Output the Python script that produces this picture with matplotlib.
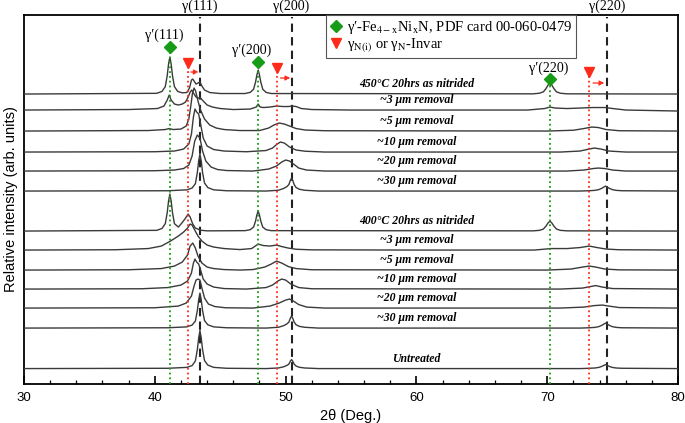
import matplotlib
matplotlib.use('Agg')
import matplotlib.pyplot as plt
from matplotlib.lines import Line2D
from matplotlib.ticker import MultipleLocator

plt.rcParams['mathtext.fontset'] = 'stix'
serif = ['Liberation Serif', 'DejaVu Serif']
sans = ['Liberation Sans', 'DejaVu Sans']

# sample labels, vertical offsets of each pattern (arb. units)
labels = ['450°C 20hrs as nitrided', '~3 μm removal', '~5 μm removal', '~10 μm removal',
          '~20 μm removal', '~30 μm removal',
          '400°C 20hrs as nitrided', '~3 μm removal', '~5 μm removal', '~10 μm removal',
          '~20 μm removal', '~30 μm removal', 'Untreated']
offsets = [290, 274, 253, 232, 213, 193, 153, 134, 114, 95, 76, 56, 15.5]

# patterns: 2theta points and intensity above baseline
x450_0 = [30, 40.15, 40.55, 40.8, 40.95, 41.05, 41.15, 41.25, 41.35, 41.5, 41.75, 42.1, 42.45, 42.65,
          42.8, 42.9, 43.0, 43.15, 43.3, 43.45, 43.6, 43.8, 44.2, 45, 46.9, 47.3, 47.55, 47.7, 47.8,
          47.9, 48.0, 48.1, 48.25, 48.5, 48.9, 68.9, 69.4, 69.7, 69.9, 70.05, 70.2, 70.35, 70.5,
          70.7, 71.0, 71.5, 80]
y450_0 = [0, 0.7, 2.6, 7.4, 18.5, 30, 37, 30, 18.5, 7.4, 2.6, 1.2, 1.5, 6, 14, 15, 13, 10, 11, 12, 8,
          4, 1.5, 0.5, 0.5, 1.7, 4.8, 12, 19, 24, 19, 12, 4.8, 1.7, 0.5, 0.2, 0.8, 2.2, 5.5, 8.8, 11,
          8.8, 5.5, 2.2, 0.8, 0.2, 0]

x450_3 = [30, 38, 40.2, 40.7, 40.95, 41.1, 41.25, 41.5, 41.8, 42.1, 42.35, 42.55, 42.7, 42.82, 42.95,
          43.15, 43.35, 43.5, 43.7, 44.0, 44.4, 45.0, 46, 47.3, 47.75, 47.9, 48.05, 48.3, 48.8, 49.3,
          49.8, 50.2, 50.5, 50.8, 51.2, 52, 55, 68.5, 69.8, 70.2, 70.6, 71.5, 72.5, 73.5, 74.4, 75.0, 76, 80]
y450_3 = [0, 0.5, 1.5, 4, 10, 15, 10, 6, 5, 6, 8, 13, 18, 20, 17, 13, 12, 12, 9, 5, 3, 1.5, 0.5, 1, 3,
          6, 3, 2.5, 3, 4, 3.5, 3.5, 4, 3.5, 1.5, 0.5, 0, 0, 1.5, 3, 2, 1.5, 2, 2.5, 2.5, 1.5, 0, -1]

x450_5 = [30, 39.5, 40.8, 41.1, 41.4, 42.0, 42.4, 42.6, 42.75, 42.88, 43.0, 43.12, 43.3, 43.5, 43.8,
          44.2, 44.7, 45.3, 46.5, 48.0, 48.7, 49.1, 49.5, 49.9, 50.3, 50.8, 51.5, 53, 70, 72.0, 72.8,
          73.4, 73.9, 74.5, 75.5, 80]
y450_5 = [0, 0.5, 1.5, 2.5, 1.5, 2, 5, 12, 25, 38, 43, 40, 30, 21, 12, 6, 3, 1.5, 0.5, 0.5, 3, 6, 8, 7,
          5, 2.5, 1, 0.3, 0, 0.8, 2.5, 4, 3.5, 1.5, 0.3, 0]

x450_10 = [30, 40, 41.5, 42.2, 42.6, 42.8, 42.95, 43.07, 43.2, 43.35, 43.5, 43.7, 44.0, 44.5, 45.3, 47,
           48.5, 49.0, 49.35, 49.6, 49.9, 50.3, 50.8, 51.5, 53, 71, 72.5, 73.2, 73.6, 74.1, 74.7, 76, 80]
y450_10 = [0, 0.3, 1, 3, 8, 18, 35, 43, 40, 38, 28, 14, 6, 2.5, 1, 0.3, 1.5, 4, 8, 10, 9, 5, 2, 0.8,
           0, 0, 1, 3, 4, 3, 1, 0, 0]

x450_20 = [30, 40, 41.5, 42.2, 42.6, 42.85, 43.05, 43.25, 43.45, 43.65, 43.9, 44.3, 44.8, 45.5, 47.5,
           48.7, 49.3, 49.7, 50.0, 50.3, 50.6, 51.0, 51.6, 53, 71.5, 72.8, 73.5, 73.9, 74.4, 75.0, 76, 80]
y450_20 = [0, 0.3, 1, 2.5, 6, 15, 30, 36, 33, 20, 10, 4, 1.5, 0.5, 0, 2, 5, 9, 11, 10, 7, 3, 1, 0, 0,
           1, 2.5, 3, 2.5, 1, 0, 0]

x450_30 = [30, 41, 42.45, 42.85, 43.1, 43.25, 43.35, 43.45, 43.55, 43.65, 43.8, 44.05, 44.5, 45.5,
           48.5, 49.45, 49.85, 50.1, 50.25, 50.35, 50.45, 50.55, 50.65, 50.8, 51.05, 51.45, 52.5,
           72.5, 73.2, 73.65, 73.95, 74.2, 74.45, 74.7, 74.95, 75.25, 75.7, 80]
y450_30 = [0, 0.3, 1.2, 3, 7.4, 18.5, 30, 37, 30, 18.5, 8, 3.5, 1.2, 0.3, 0, 0.8, 2.6, 4.5, 6.5, 10.4,
           13, 10.4, 6.5, 3.5, 1.8, 0.8, 0, 0, 0.3, 0.7, 1.5, 3, 5, 3, 1.5, 0.7, 0.3, 0]

x400_0 = [30, 40.15, 40.55, 40.8, 40.95, 41.05, 41.15, 41.25, 41.35, 41.5, 41.8, 42.0, 42.3, 42.55,
          42.7, 42.9, 43.1, 43.5, 44, 46.9, 47.3, 47.55, 47.7, 47.8, 47.9, 48.0, 48.1, 48.25, 48.5,
          48.9, 68.9, 69.4, 69.7, 69.9, 70.05, 70.2, 70.35, 70.5, 70.7, 71.0, 71.5, 80]
y400_0 = [0, 0.7, 2.6, 7.4, 18.5, 30, 37, 30, 18.5, 7.4, 4, 7, 12, 17, 14, 7, 3, 0.8, 0.2, 0.4, 1.4,
          4, 10, 16, 20, 16, 10, 4, 1.4, 0.4, 0.2, 0.7, 2, 5, 8, 10, 8, 5, 2, 0.7, 0.2, 0]

x400_3 = [30, 37, 39.5, 40.5, 41.2, 41.8, 42.2, 42.5, 42.7, 42.85, 43.05, 43.3, 43.6, 44.0, 44.5, 45.3,
          46.5, 47.4, 47.9, 48.3, 48.8, 49.3, 49.7, 50.2, 50.8, 52, 60, 69, 70.3, 71.5, 72.5, 73.2,
          73.8, 74.5, 75.5, 80]
y400_3 = [0, 0.3, 1.5, 4, 9, 14, 18, 22, 26, 25, 20, 14, 9, 5, 3, 1.5, 0.5, 1.5, 6, 4.5, 4, 5, 3.5, 2,
          0.8, 0.2, 0, 0, 1.5, 1.5, 2.5, 4, 2.5, 1, 0.3, 0]

x400_5 = [30, 38, 40.5, 41.5, 42.1, 42.5, 42.7, 42.9, 43.1, 43.3, 43.6, 44.0, 44.5, 45.3, 46.5, 47.5,
          48.4, 48.9, 49.3, 49.7, 50.2, 50.8, 52, 70, 71.8, 72.7, 73.2, 73.7, 74.4, 75.5, 80]
y400_5 = [0, 0.3, 1.5, 4, 8, 15, 24, 27, 22, 14, 7, 3, 1.5, 0.5, 0, 0.5, 3, 6, 9, 7, 3.5, 1.5, 0.3, 0,
          1, 3, 4, 3, 1, 0.2, 0]

x400_10 = [30, 39, 41, 42, 42.5, 42.8, 42.95, 43.07, 43.2, 43.35, 43.5, 43.7, 44.0, 44.5, 45.3, 47,
           48.5, 49.0, 49.4, 49.7, 50.0, 50.4, 51.0, 52, 71, 72.7, 73.3, 73.7, 74.2, 75, 80]
y400_10 = [0, 0.3, 1.5, 4, 8, 16, 26, 30, 27, 25, 19, 10, 5, 2, 0.5, 0, 1.5, 4, 8, 10, 9, 5, 1.5, 0.3,
           0, 1, 2.5, 3.5, 2, 0.5, 0]

x400_20 = [30, 40, 41.8, 42.4, 42.8, 43.0, 43.15, 43.3, 43.45, 43.6, 43.8, 44.1, 44.6, 45.4, 47.5, 48.8,
           49.5, 50.0, 50.3, 50.6, 51.0, 51.6, 53, 71, 72.8, 73.6, 74.2, 74.7, 75.5, 80]
y400_20 = [0, 0.3, 2, 5, 12, 22, 28, 29, 28, 20, 10, 4, 1.5, 0.3, 0, 2, 5, 8, 9, 7, 3.5, 1, 0, 0, 1,
           2.5, 3, 2, 0.5, 0]

x400_30 = [30, 41, 42.45, 42.85, 43.1, 43.25, 43.35, 43.45, 43.55, 43.65, 43.8, 44.05, 44.5, 45.5,
           48.5, 49.45, 49.85, 50.1, 50.25, 50.35, 50.45, 50.55, 50.65, 50.8, 51.05, 51.45, 52.5,
           72.5, 73.2, 73.65, 73.95, 74.2, 74.45, 74.7, 74.95, 75.25, 75.7, 80]
y400_30 = [0, 0.3, 1.2, 3, 7, 17.5, 28, 35, 28, 17.5, 7.5, 3.3, 1.2, 0.3, 0, 0.8, 2.4, 4.2, 6, 9.6,
           12, 9.6, 6, 3.3, 1.7, 0.8, 0, 0, 0.3, 0.7, 1.5, 3, 5, 3, 1.5, 0.7, 0.3, 0]

x_untr = [30, 41, 42.45, 42.85, 43.1, 43.25, 43.35, 43.45, 43.55, 43.65, 43.8, 44.05, 44.5, 45.5,
          48.5, 49.45, 49.85, 50.1, 50.25, 50.35, 50.45, 50.55, 50.65, 50.8, 51.05, 51.45, 52.5,
          72.5, 73.2, 73.65, 73.95, 74.2, 74.45, 74.7, 74.95, 75.25, 75.7, 80]
y_untr = [0, 0.3, 1.2, 3, 7.6, 19, 30.4, 38, 30.4, 19, 8, 3.5, 1.2, 0.3, 0, 0.6, 1.8, 3.2, 4.5, 7.2,
          9, 7.2, 4.5, 2.5, 1.3, 0.6, 0, 0, 0.3, 0.6, 1.2, 2.4, 4, 2.4, 1.2, 0.6, 0.3, 0]

patterns = [(x450_0, y450_0), (x450_3, y450_3), (x450_5, y450_5), (x450_10, y450_10),
            (x450_20, y450_20), (x450_30, y450_30), (x400_0, y400_0), (x400_3, y400_3),
            (x400_5, y400_5), (x400_10, y400_10), (x400_20, y400_20), (x400_30, y400_30),
            (x_untr, y_untr)]

# reference positions
gamma_pos = [43.45, 50.45, 74.55]
gamma_names = ['γ(111)', 'γ(200)', 'γ(220)']
gprime_pos = [41.15, 47.9, 70.2]
gprime_top = [337, 322, 305]
gprime_names = ['γ′(111)', 'γ′(200)', 'γ′(220)']
gprime_text = [(40.7, 349), (47.4, 334), (70.1, 316)]
gn_pos = [42.5, 49.35, 73.2]
gn_top = [321, 316, 312]
arrows = [(42.75, 43.35, 312), (49.6, 50.35, 306), (73.5, 74.35, 301)]

green = '#169c16'
red = '#ff2b1a'

fig = plt.figure(figsize=(6.85, 4.23), dpi=100)
ax = fig.add_axes([0.035, 0.092, 0.955, 0.8725])

for (xs, hs), off in zip(patterns, offsets):
    ax.plot(xs, [off + h for h in hs], color='#3a3a3a', lw=1.0, zorder=3)

for lab, off in zip(labels, offsets):
    ax.text(60.0, off + 10, lab, ha='center', va='center', fontsize=8.5,
            family=serif, weight='bold', style='italic')

for xp, name in zip(gamma_pos, gamma_names):
    ax.axvline(xp, ymax=0.995, color='#222222', lw=1.5, ls=(0, (4, 2.5)), zorder=2)
    ax.text(xp, 378, name, ha='center', va='center', fontsize=10, family=serif, clip_on=False)

for xp, top, name, (tx, ty) in zip(gprime_pos, gprime_top, gprime_names, gprime_text):
    ax.plot([xp, xp], [0, top], color=green, lw=1.3, ls=':', zorder=4)
    ax.plot(xp, top, marker='D', color=green, ms=6, zorder=5)
    ax.text(tx, ty, name, ha='center', va='center', fontsize=10, family=serif)

for xp, top in zip(gn_pos, gn_top):
    ax.plot([xp, xp], [0, top], color=red, lw=1.3, ls=':', zorder=4)
    ax.plot(xp, top, marker='v', color=red, ms=7, zorder=5)

for x0, x1, ya in arrows:
    ax.annotate('', xy=(x1, ya), xytext=(x0, ya),
                arrowprops=dict(arrowstyle='-|>', color=red, lw=0.9, ls='--',
                                mutation_scale=7, shrinkA=0, shrinkB=0))

handles = [Line2D([], [], marker='D', color=green, ls='none', ms=6),
           Line2D([], [], marker='v', color=red, ls='none', ms=7)]
leg = ax.legend(handles, [r'γ′-Fe$_{\mathrm{4-x}}$Ni$_{\mathrm{x}}$N, PDF card 00-060-0479',
                          r'γ$_{\mathrm{N(i)}}$ or γ$_{\mathrm{N}}$-Invar'],
                loc='upper left', bbox_to_anchor=(0.462, 1.0), borderaxespad=0,
                prop={'family': serif, 'size': 10.5}, fancybox=False, edgecolor='#555555',
                framealpha=1, handlelength=0.8, handletextpad=0.4, labelspacing=0.05,
                borderpad=0.25)
leg.get_frame().set_linewidth(0.8)

ax.set_xlim(30, 80)
ax.set_ylim(0, 369)
ax.set_yticks([])
ax.xaxis.set_major_locator(MultipleLocator(10))
ax.xaxis.set_minor_locator(MultipleLocator(2))
ax.tick_params(axis='x', which='major', direction='in', length=6, width=1.2, labelsize=9.5, pad=6)
ax.tick_params(axis='x', which='minor', direction='in', length=3, width=0.9)
for lbl in ax.get_xticklabels():
    lbl.set_family(sans)
for sp in ax.spines.values():
    sp.set_linewidth(1.3)

ax.set_xlabel('2θ (Deg.)', family=sans, fontsize=10.5, labelpad=3)
ax.set_ylabel('Relative intensity (arb. units)', family=sans, fontsize=10.5, labelpad=4)

fig.savefig('out.png', dpi=100)
